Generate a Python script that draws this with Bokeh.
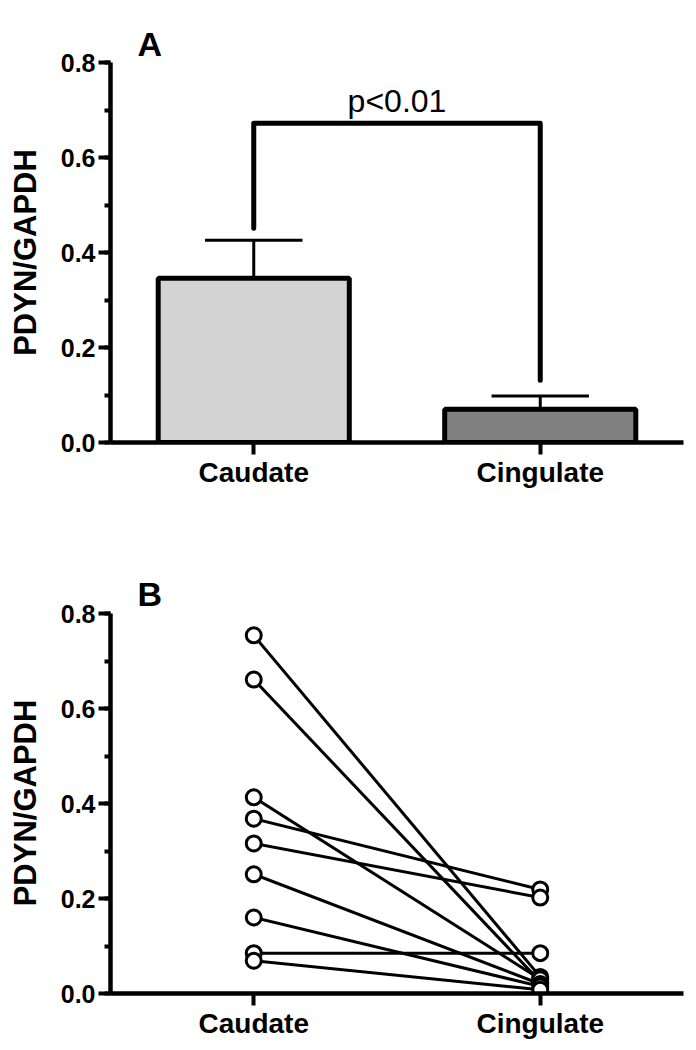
from bokeh.plotting import figure
from bokeh.layouts import column
from bokeh.models import Range1d, FixedTicker, SingleIntervalTicker, PrintfTickFormatter
from bokeh.embed import file_html
from bokeh.resources import INLINE
from bokeh.core.properties import value

# ---------------- data ----------------
categories = ["Caudate", "Cingulate"]
bar_means = [0.346, 0.070]
bar_sem = [0.080, 0.028]
bar_colors = ["#d3d3d3", "#808080"]
bracket_bottoms = [0.451, 0.131]
bracket_top = 0.672
p_text = "p<0.01"

caudate_vals = [0.754, 0.661, 0.413, 0.368, 0.316, 0.251, 0.160, 0.085, 0.069]
cingulate_vals = [0.035, 0.025, 0.030, 0.219, 0.202, 0.020, 0.015, 0.085, 0.008]

y_label = "PDYN/GAPDH"
panel_letters = ["A", "B"]

FONT = "Liberation Sans"
PX_PER_UNIT = 475.0
positions = list(range(len(categories)))


def make_fig(height, top_border, bottom_border, letter):
    frame_h = height - top_border - bottom_border
    y_end = frame_h / PX_PER_UNIT
    p = figure(width=696, height=height,
               x_range=Range1d(-0.5, len(categories) - 0.5),
               y_range=Range1d(0, y_end),
               output_backend="svg", toolbar_location=None,
               min_border_left=110, min_border_right=13,
               min_border_top=top_border, min_border_bottom=bottom_border)
    p.outline_line_color = None
    p.xgrid.visible = False
    p.ygrid.visible = False
    p.background_fill_color = "white"

    # panel letter as the figure title
    p.title.text = letter
    p.title.align = "left"
    p.title.offset = 27
    p.title.standoff = 0
    p.title.text_font = FONT
    p.title.text_font_style = "bold"
    p.title.text_font_size = "34px"
    p.title.text_color = "black"

    xa = p.xaxis[0]
    xa.ticker = FixedTicker(ticks=positions)
    xa.major_label_overrides = {i: c for i, c in zip(positions, categories)}
    xa.bounds = (-0.5, len(categories) - 0.5)
    xa.axis_line_width = 4.5
    xa.major_tick_line_width = 4
    xa.major_tick_out = 12
    xa.major_tick_in = 0
    xa.minor_tick_line_color = None
    xa.major_label_text_font = FONT
    xa.major_label_text_font_style = "bold"
    xa.major_label_text_font_size = "28px"
    xa.major_label_text_color = "black"
    xa.major_label_standoff = 2

    ya = p.yaxis[0]
    ya.ticker = SingleIntervalTicker(interval=0.2, num_minor_ticks=2)
    ya.formatter = PrintfTickFormatter(format="%.1f")
    ya.bounds = (0, 0.8)
    ya.axis_line_width = 4.5
    ya.major_tick_line_width = 4
    ya.major_tick_out = 12
    ya.major_tick_in = 0
    ya.minor_tick_line_width = 4
    ya.minor_tick_out = 6
    ya.minor_tick_in = 0
    ya.major_label_text_font = FONT
    ya.major_label_text_font_style = "bold"
    ya.major_label_text_font_size = "25px"
    ya.major_label_text_color = "black"
    ya.major_label_standoff = 3
    ya.axis_label = y_label
    ya.axis_label_text_font = FONT
    ya.axis_label_text_font_style = "bold"
    ya.axis_label_text_font_size = "31px"
    ya.axis_label_text_color = "black"
    ya.axis_label_standoff = 15
    return p


# ---------------- panel A ----------------
pa = make_fig(500, 62, 58, panel_letters[0])
upper = [m + s for m, s in zip(bar_means, bar_sem)]
cap_half = 0.17
pa.segment(x0=positions, y0=bar_means, x1=positions, y1=upper,
           line_color="black", line_width=3)
pa.segment(x0=[x - cap_half for x in positions], y0=upper,
           x1=[x + cap_half for x in positions], y1=upper,
           line_color="black", line_width=3)
pa.vbar(x=positions, top=bar_means, bottom=0, width=0.667,
        fill_color=bar_colors, line_color="black", line_width=5)
pa.line(x=[positions[0], positions[0], positions[1], positions[1]],
        y=[bracket_bottoms[0], bracket_top, bracket_top, bracket_bottoms[1]],
        line_color="black", line_width=5, line_cap="round", line_join="round")
pa.text(x=[(positions[0] + positions[1]) / 2], y=[0.72], text=[p_text],
        text_align="center", text_baseline="alphabetic",
        text_font=value(FONT), text_font_size="32px", text_color="black")

# ---------------- panel B ----------------
pb = make_fig(550, 112, 57, panel_letters[1])
n = len(caudate_vals)
xc = [positions[0]] * n
xg = [positions[1]] * n
pb.segment(x0=xc, y0=caudate_vals, x1=xg, y1=cingulate_vals,
           line_color="black", line_width=3)
pb.scatter(x=xc, y=caudate_vals, size=15, fill_color="white",
           line_color="black", line_width=3)
pb.scatter(x=xg, y=cingulate_vals, size=15, fill_color="white",
           line_color="black", line_width=3)

layout = column(pa, pb, spacing=0)
open("out.html", "w").write(file_html(layout, INLINE))
